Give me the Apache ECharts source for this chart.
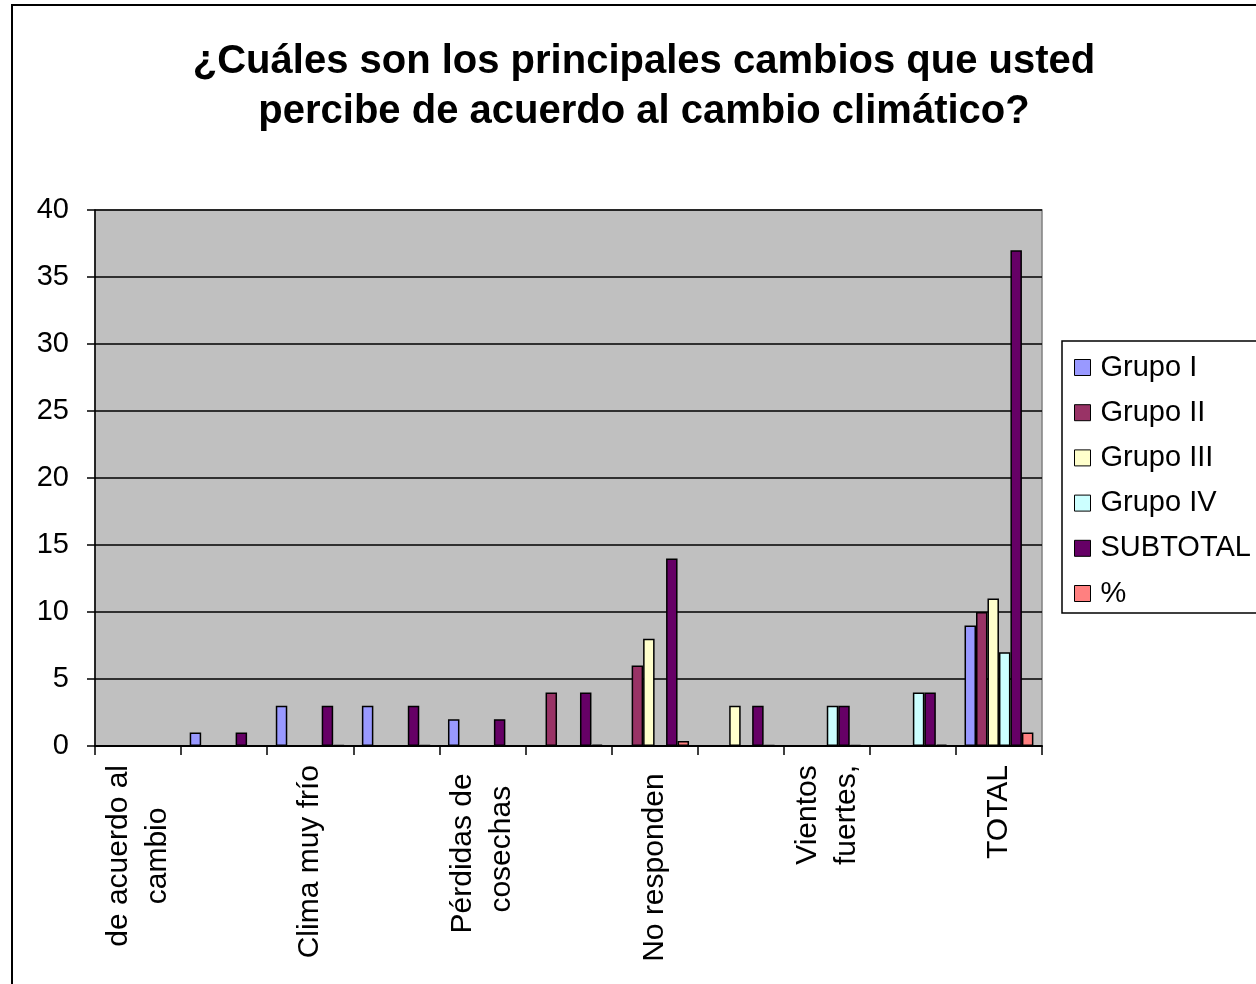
<!DOCTYPE html>
<html>
<head>
<meta charset="utf-8">
<script src="https://cdn.jsdelivr.net/npm/echarts@6/dist/echarts.min.js"></script>
<style>
html,body{margin:0;padding:0;background:#fff;}
#chart{width:1256px;height:984px;}
</style>
</head>
<body>
<div id="chart"></div>
<script>
const categories = ['de acuerdo al\ncambio', '', 'Clima muy frío', '', 'Pérdidas de \ncosechas', '', 'No responden ', '', 'Vientos\nfuertes,', '', 'TOTAL'];
const grupoI   = [0, 1, 3, 3, 2, 0, 0, 0, 0, 0, 9];
const grupoII  = [0, 0, 0, 0, 0, 4, 6, 0, 0, 0, 10];
const grupoIII = [0, 0, 0, 0, 0, 0, 8, 3, 0, 0, 11];
const grupoIV  = [0, 0, 0, 0, 0, 0, 0, 0, 3, 4, 7];
const subtotal = [0, 1, 3, 3, 2, 4, 14, 3, 3, 4, 37];
const pct      = [0, 0.03, 0.08, 0.08, 0.05, 0.11, 0.38, 0.08, 0.08, 0.11, 1];
const seriesNames = ['Grupo I', 'Grupo II', 'Grupo III', 'Grupo IV', 'SUBTOTAL', '%'];
const seriesData = [grupoI, grupoII, grupoIII, grupoIV, subtotal, pct];
const colors = ['#9999FF', '#993366', '#FFFFCC', '#CCFFFF', '#660066', '#FF8080'];
const titleText = '¿Cuáles son los principales cambios que usted\npercibe de acuerdo al cambio climático?';

const FONT = "'Liberation Sans', Arial, sans-serif";
const chart = echarts.init(document.getElementById('chart'));
chart.setOption({
  animation: false,
  backgroundColor: '#fff',
  textStyle: { fontFamily: FONT },
  title: {
    text: titleText,
    left: 644,
    top: 37,
    padding: 0,
    textAlign: 'center',
    textStyle: { fontFamily: FONT, fontSize: 40, fontWeight: 'bold', color: '#000', lineHeight: 50 }
  },
  graphic: [{
    type: 'rect',
    shape: { x: 12, y: 5, width: 2000, height: 2000 },
    style: { fill: 'none', stroke: '#000', lineWidth: 2 },
    z: 100
  }],
  legend: {
    orient: 'vertical',
    left: 1062,
    top: 341,
    padding: [12, 20, 5, 12],
    itemGap: 16.2,
    itemWidth: 16,
    itemHeight: 16,
    icon: 'rect',
    backgroundColor: '#fff',
    borderColor: '#000',
    borderWidth: 1.5,
    itemStyle: { borderColor: '#000', borderWidth: 1 },
    textStyle: { fontFamily: FONT, fontSize: 29, lineHeight: 29, color: '#000', padding: [0, 0, 0, 5] },
    data: seriesNames
  },
  grid: {
    left: 95, right: 214, top: 210, bottom: 238,
    show: true, backgroundColor: '#C0C0C0', borderColor: '#808080', borderWidth: 1.5
  },
  xAxis: {
    type: 'category',
    data: categories,
    boundaryGap: true,
    axisLine: { lineStyle: { color: '#000', width: 2 } },
    axisTick: { show: true, interval: 0, length: 9, lineStyle: { color: '#000', width: 1.5 } },
    axisLabel: {
      interval: 1,
      rotate: 90,
      margin: 19,
      color: '#000',
      formatter: function (v) { return v.split('\n').map(s => '{c|' + s + '}').join('\n'); },
      rich: { c: { align: 'center', fontFamily: FONT, fontSize: 30, lineHeight: 39, color: '#000' } }
    },
    splitLine: { show: false }
  },
  yAxis: {
    type: 'value',
    min: 0, max: 40, interval: 5,
    axisLine: { show: true, lineStyle: { color: '#000', width: 1.5 } },
    axisTick: { show: true, length: 8, lineStyle: { color: '#000', width: 1.5 } },
    axisLabel: { margin: 26, fontFamily: FONT, fontSize: 29, color: '#000' },
    splitLine: { lineStyle: { color: '#000', width: 1.5 } }
  },
  series: seriesNames.map((name, i) => ({
    name: name,
    type: 'bar',
    data: seriesData[i],
    barGap: '0%',
    barCategoryGap: '20%',
    itemStyle: { color: colors[i], borderColor: '#000', borderWidth: 1.5 }
  }))
});
</script>
</body>
</html>
